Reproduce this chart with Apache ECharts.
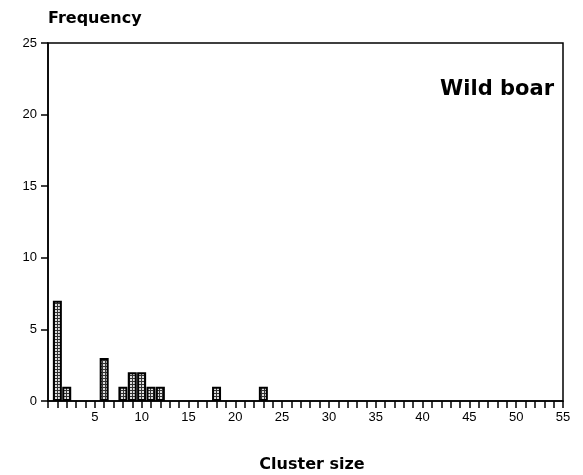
<!DOCTYPE html>
<html lang="en">
  <head>
    <meta charset="UTF-8" />
    <title>Wild boar</title>
    <script src="https://cdn.jsdelivr.net/npm/echarts@6/dist/echarts.min.js"></script>
  </head>
  <body style="margin: 0;">
    <div id="chart" style="width: 583px; height: 475px;"></div>
    <script>
      // cluster size -> frequency
      const clusterSizes = [1, 2, 6, 8, 9, 10, 11, 12, 18, 23]
      const frequencies = [7, 1, 3, 1, 2, 2, 1, 1, 1, 1]
      const xTickLabels = [5, 10, 15, 20, 25, 30, 35, 40, 45, 50, 55]
      const yTickLabels = [0, 5, 10, 15, 20, 25]

      // stipple fill like the printed bars
      const pat = document.createElement('canvas')
      pat.width = 3
      pat.height = 3
      const ctx = pat.getContext('2d')
      ctx.fillStyle = '#ddd'
      ctx.fillRect(0, 0, 3, 3)
      ctx.fillStyle = '#333'
      ctx.fillRect(0, 0, 1, 3)
      ctx.fillRect(0, 0, 3, 1)

      const font = 'Liberation Sans, Arial, sans-serif'
      const titleFont = 'DejaVu Sans, sans-serif'
      const chart = echarts.init(document.getElementById('chart'))
      chart.setOption({
        backgroundColor: '#fff',
        animation: false,
        grid: {
          left: 48,
          right: 20,
          top: 43,
          bottom: 74,
          show: true,
          borderColor: '#000',
          borderWidth: 1.5
        },
        title: [
          {
            text: 'Frequency',
            left: 43,
            top: 6,
            textStyle: { fontFamily: titleFont, fontSize: 16, fontWeight: 'bold', color: '#000' }
          },
          {
            text: 'Wild boar',
            right: 24,
            top: 74,
            textStyle: { fontFamily: titleFont, fontSize: 21, fontWeight: 'bold', color: '#000' }
          },
          {
            text: 'Cluster size',
            left: 307,
            textAlign: 'center',
            top: 452,
            textStyle: { fontFamily: titleFont, fontSize: 16, fontWeight: 'bold', color: '#000' }
          }
        ],
        xAxis: {
          type: 'value',
          min: 0,
          max: 55,
          interval: 1,
          splitLine: { show: false },
          axisLine: { lineStyle: { color: '#000', width: 1.5 } },
          axisTick: { length: 7, lineStyle: { color: '#000', width: 1.5 } },
          axisLabel: {
            margin: 10,
            fontFamily: font,
            fontSize: 13,
            color: '#000',
            formatter: v => (xTickLabels.includes(v) ? String(v) : '')
          }
        },
        yAxis: {
          type: 'value',
          min: 0,
          max: 25,
          interval: 5,
          splitLine: { show: false },
          axisLine: { show: true, lineStyle: { color: '#000', width: 1.5 } },
          axisTick: { show: true, length: 7, lineStyle: { color: '#000', width: 1.5 } },
          axisLabel: {
            margin: 11,
            fontFamily: font,
            fontSize: 13,
            color: '#000',
            formatter: v => (yTickLabels.includes(v) ? String(v) : '')
          }
        },
        series: [
          {
            type: 'bar',
            barWidth: 9,
            data: clusterSizes.map((s, i) => [s, frequencies[i]]),
            itemStyle: {
              color: { image: pat, repeat: 'repeat' },
              borderColor: '#000',
              borderWidth: 2
            }
          }
        ]
      })
    </script>
  </body>
</html>
